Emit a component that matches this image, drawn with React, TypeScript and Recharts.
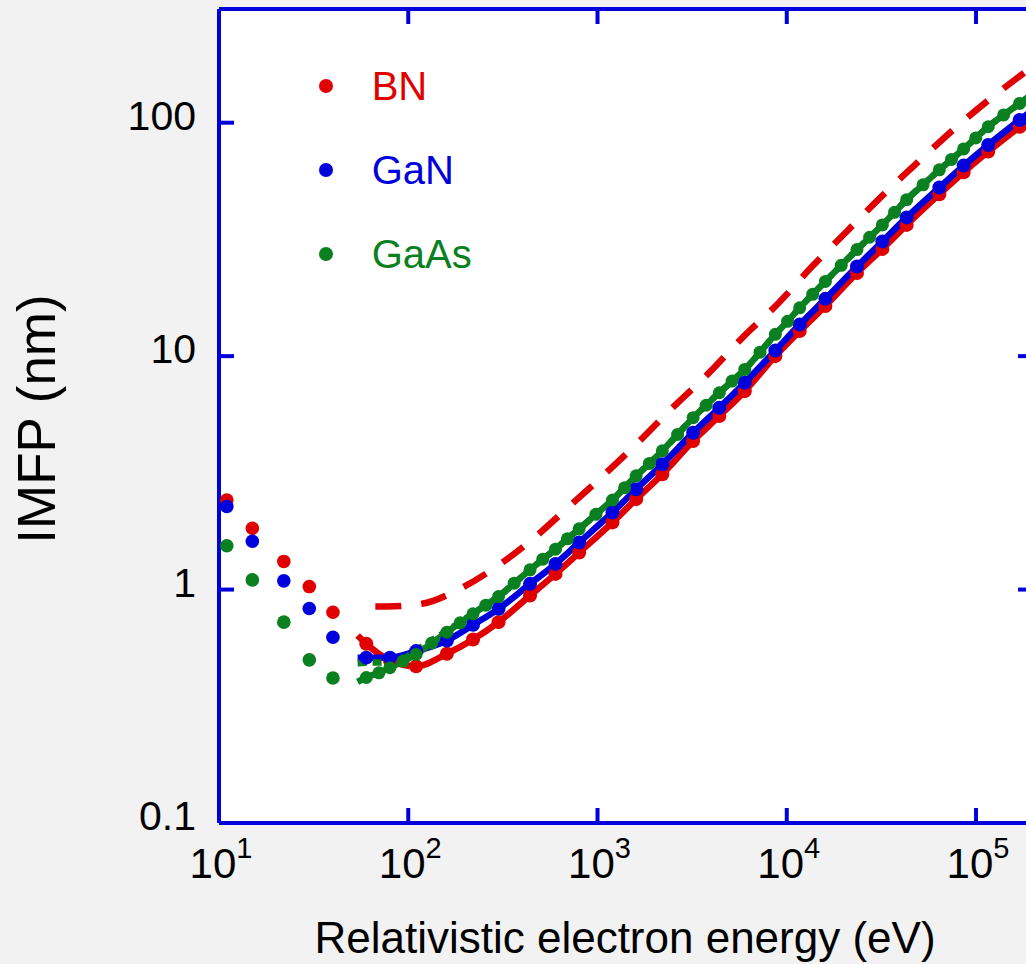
import React from "react";
import { CartesianGrid, ComposedChart, Legend, Line, Scatter, XAxis, YAxis } from "recharts";

const FONT = '"Liberation Sans", Arial, Helvetica, sans-serif';
const FRAME = "#0000d8";
const RED = "#e00000";
const BLUE = "#0000dc";
const GREEN = "#0a8020";

// axis ticks
const xTicks = [10, 100, 1000, 10000, 100000];
const xTickExp = ["1", "2", "3", "4", "5"];
const yTicks = [0.1, 1, 10, 100];
const yTickLabels = ["0.1", "1", "10", "100"];

// low-energy points (dots only)
const lowE = [11, 15, 22, 30, 40];
const lowBN = [2.42, 1.83, 1.32, 1.03, 0.8];
const lowGaN = [2.27, 1.61, 1.09, 0.83, 0.625];
const lowGaAs = [1.54, 1.1, 0.725, 0.5, 0.418];

// calculated curves, BN and GaN (eV)
const gridE = [
  54, 60, 80, 110, 160, 220, 300, 440, 600, 800, 1200, 1600, 2200, 3200, 4400, 6000, 8700,
  11700, 16000, 23500, 32000, 43000, 64000, 86000, 116000, 170000, 200000,
];
const bnImfp = [
  0.636, 0.586, 0.497, 0.469, 0.531, 0.611, 0.725, 0.943, 1.167, 1.44, 1.94, 2.44, 3.12, 4.33,
  5.54, 7.08, 10.0, 12.8, 16.4, 22.7, 28.8, 36.5, 49.4, 61.3, 75.2, 96.1, 106.6,
];
const ganImfp = [
  0.511, 0.511, 0.511, 0.545, 0.605, 0.706, 0.827, 1.058, 1.288, 1.592, 2.14, 2.69, 3.44, 4.7,
  6.01, 7.69, 10.57, 13.65, 17.6, 24.2, 31.0, 39.3, 52.8, 65.5, 80.3, 102.7, 113.8,
];

// GaAs has a denser grid
const gaasE = [
  54, 60, 70, 80, 94, 110, 133, 160, 188, 220, 257, 300, 363, 440, 514, 600, 693, 800, 980,
  1200, 1390, 1600, 1880, 2200, 2650, 3200, 3750, 4400, 5140, 6000, 7220, 8700, 10100, 11700,
  13700, 16000, 19400, 23500, 27400, 32000, 37100, 43000, 52500, 64000, 74200, 86000, 99700,
  116000, 140000, 170000, 200000,
];
const gaasImfp = [
  0.402, 0.42, 0.44, 0.463, 0.494, 0.527, 0.59, 0.657, 0.72, 0.787, 0.857, 0.933, 1.065, 1.215,
  1.35, 1.49, 1.65, 1.82, 2.1, 2.42, 2.73, 3.07, 3.47, 3.93, 4.62, 5.45, 6.16, 6.97, 7.82, 8.77,
  10.4, 12.4, 14.1, 16.1, 18.4, 20.9, 24.5, 28.6, 32.3, 36.5, 41.3, 46.8, 54.2, 62.8, 69.6,
  77.2, 86.1, 96.1, 108, 121, 133,
];

// predictive formula curves (dashed)
const bnDashE = [
  67, 77, 118, 180, 281, 466, 670, 1045, 1600, 2490, 3810, 5820, 8730, 13600, 20800, 32400,
  49600, 77300, 118000, 173000, 200000,
];
const bnDashImfp = [
  0.846, 0.846, 0.869, 0.99, 1.226, 1.673, 2.18, 3.02, 4.19, 6.01, 8.35, 11.97, 16.4, 24.2,
  34.3, 49.2, 68.1, 94.6, 126, 160, 175,
];
const gaasDashE = [
  54, 60, 70, 80, 94, 110, 133, 160, 220, 300, 440, 600, 800, 1200, 1600, 2200, 3200, 4400,
  6000, 8700, 11700, 16000, 23500, 32000, 43000, 64000, 86000, 116000, 170000, 200000,
];
const gaasDashImfp = [
  0.484, 0.486, 0.487, 0.49, 0.505, 0.55, 0.605, 0.665, 0.79, 0.935, 1.215, 1.49, 1.82, 2.42,
  3.07, 3.93, 5.45, 6.97, 8.77, 12.4, 16.1, 20.9, 28.6, 36.5, 46.8, 62.8, 77.2, 96.1, 121, 133,
];

const legendItems = [
  { name: "BN", color: RED },
  { name: "GaN", color: BLUE },
  { name: "GaAs", color: GREEN },
];

const zip = (e: number[], v: number[]) => e.map((x, i) => ({ e: x, v: v[i] }));

// dots on every point except the two curve ends
const curveDot = (color: string, r: number, count: number) => (p: any) => {
  const k = `dot-${p.index}`;
  if (p.index === 0 || p.index === count - 1) return <g key={k} />;
  return <circle key={k} cx={p.cx} cy={p.cy} r={r} fill={color} />;
};

const lowDot = (color: string) => (p: any) => <circle cx={p.cx} cy={p.cy} r={6.8} fill={color} />;

function BottomTick({ x, y, payload }: any) {
  const i = xTicks.indexOf(payload.value);
  return (
    <g>
      <line x1={x} y1={y} x2={x} y2={y - 15} stroke={FRAME} strokeWidth={4} />
      <text x={x + 2} y={y + 55} textAnchor="middle" fontFamily={FONT} fontSize={42} fill="#000">
        10
        <tspan dy={-20} fontSize={29}>
          {xTickExp[i]}
        </tspan>
      </text>
    </g>
  );
}

function TopTick({ x, y }: any) {
  return <line x1={x} y1={y} x2={x} y2={y + 15} stroke={FRAME} strokeWidth={4} />;
}

function LeftTick({ x, y, payload }: any) {
  const i = yTicks.indexOf(payload.value);
  return (
    <g>
      <line x1={x} y1={y} x2={x + 15} y2={y} stroke={FRAME} strokeWidth={4} />
      <text x={x - 23} y={y + 7} textAnchor="end" fontFamily={FONT} fontSize={41} fill="#000">
        {yTickLabels[i]}
      </text>
    </g>
  );
}

function RightTick({ x, y }: any) {
  return <line x1={x} y1={y} x2={x - 15} y2={y} stroke={FRAME} strokeWidth={4} />;
}

function LegendBox() {
  return (
    <div style={{ fontFamily: FONT }}>
      {legendItems.map((it) => (
        <div key={it.name} style={{ display: "flex", alignItems: "center", height: 84 }}>
          <span
            style={{ width: 14, height: 14, borderRadius: 7, background: it.color, marginRight: 39 }}
          />
          <span style={{ fontSize: 40, lineHeight: 1, color: it.color }}>{it.name}</span>
        </div>
      ))}
    </div>
  );
}

export default function App() {
  return (
    <div
      style={{
        position: "absolute",
        left: 0,
        top: 0,
        width: 1026,
        height: 964,
        overflow: "hidden",
        background: "#f2f2f2",
      }}
    >
      <ComposedChart width={1060} height={964} margin={{ top: 8, right: 26, bottom: 140, left: 218 }}>
        <CartesianGrid fill="#ffffff" horizontal={false} vertical={false} />
        <XAxis
          dataKey="e"
          type="number"
          scale="log"
          domain={[10, 200000]}
          allowDataOverflow
          ticks={xTicks}
          interval={0}
          height={1}
          tickSize={0}
          tickMargin={0}
          tick={<BottomTick />}
          axisLine={{ stroke: FRAME, strokeWidth: 4 }}
          label={{
            content: () => (
              <text x={625} y={953} textAnchor="middle" fontFamily={FONT} fontSize={44} fill="#000">
                Relativistic electron energy (eV)
              </text>
            ),
          }}
        />
        <XAxis
          xAxisId="top"
          orientation="top"
          dataKey="e"
          type="number"
          scale="log"
          domain={[10, 200000]}
          allowDataOverflow
          ticks={xTicks}
          interval={0}
          height={1}
          tickSize={0}
          tickMargin={0}
          tick={<TopTick />}
          axisLine={{ stroke: FRAME, strokeWidth: 4 }}
        />
        <YAxis
          type="number"
          scale="log"
          domain={[0.1, 307]}
          allowDataOverflow
          ticks={yTicks}
          interval={0}
          width={1}
          tickSize={0}
          tickMargin={0}
          tick={<LeftTick />}
          axisLine={{ stroke: FRAME, strokeWidth: 4 }}
          label={{
            content: () => (
              <text
                x={55}
                y={419}
                transform="rotate(-90 55 419)"
                textAnchor="middle"
                fontFamily={FONT}
                fontSize={53}
                fill="#000"
              >
                IMFP (nm)
              </text>
            ),
          }}
        />
        <YAxis
          yAxisId="right"
          orientation="right"
          type="number"
          scale="log"
          domain={[0.1, 307]}
          allowDataOverflow
          ticks={yTicks}
          interval={0}
          width={1}
          tickSize={0}
          tickMargin={0}
          tick={<RightTick />}
          axisLine={{ stroke: FRAME, strokeWidth: 4 }}
        />
        <Legend
          layout="vertical"
          align="center"
          verticalAlign="middle"
          content={<LegendBox />}
          wrapperStyle={{ left: 318.7, top: 43.7, width: 200 }}
        />

        <Scatter data={zip(lowE, lowBN)} dataKey="v" shape={lowDot(RED)} isAnimationActive={false} />
        <Scatter data={zip(lowE, lowGaN)} dataKey="v" shape={lowDot(BLUE)} isAnimationActive={false} />
        <Scatter data={zip(lowE, lowGaAs)} dataKey="v" shape={lowDot(GREEN)} isAnimationActive={false} />

        <Line
          data={zip(bnDashE, bnDashImfp)}
          dataKey="v"
          type="monotone"
          stroke={RED}
          strokeWidth={6.5}
          strokeDasharray="26 20"
          dot={false}
          isAnimationActive={false}
        />
        <Line
          data={zip(gridE, bnImfp)}
          dataKey="v"
          type="monotone"
          stroke={RED}
          strokeWidth={6.5}
          dot={curveDot(RED, 7, gridE.length)}
          isAnimationActive={false}
        />
        <Line
          data={zip(gridE, ganImfp)}
          dataKey="v"
          type="monotone"
          stroke={BLUE}
          strokeWidth={6.5}
          dot={curveDot(BLUE, 7, gridE.length)}
          isAnimationActive={false}
        />
        <Line
          data={zip(gaasDashE, gaasDashImfp)}
          dataKey="v"
          type="monotone"
          stroke={GREEN}
          strokeWidth={6.5}
          strokeDasharray="9 6"
          dot={false}
          isAnimationActive={false}
        />
        <Line
          data={zip(gaasE, gaasImfp)}
          dataKey="v"
          type="monotone"
          stroke={GREEN}
          strokeWidth={6.5}
          dot={curveDot(GREEN, 6.5, gaasE.length)}
          isAnimationActive={false}
        />
      </ComposedChart>
    </div>
  );
}
